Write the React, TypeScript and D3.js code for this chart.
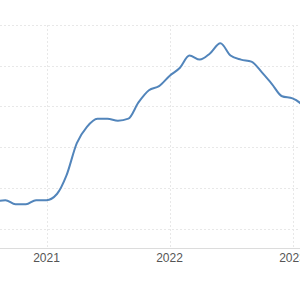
import React, { useEffect, useRef } from 'react';
import * as d3 from 'd3';

// monthly readings, Jul 2020 .. Mar 2023
const months: string[] = [
    '2020-07', '2020-08', '2020-09', '2020-10', '2020-11', '2020-12',
    '2021-01', '2021-02', '2021-03', '2021-04', '2021-05', '2021-06',
    '2021-07', '2021-08', '2021-09', '2021-10', '2021-11', '2021-12',
    '2022-01', '2022-02', '2022-03', '2022-04', '2022-05', '2022-06',
    '2022-07', '2022-08', '2022-09', '2022-10', '2022-11', '2022-12',
    '2023-01', '2023-02', '2023-03',
];
const values: number[] = [
    1.0, 1.3, 1.4, 1.2, 1.2, 1.4,
    1.4, 1.7, 2.6, 4.2, 5.0, 5.4,
    5.4, 5.3, 5.4, 6.2, 6.8, 7.0,
    7.5, 7.9, 8.5, 8.3, 8.6, 9.1,
    8.5, 8.3, 8.2, 7.7, 7.1, 6.5,
    6.4, 6.0, 5.0,
];
const yTicks: number[] = [0, 2, 4, 6, 8, 10];
const yearTicks: string[] = ['2021', '2022', '2023'];

const App: React.FC = () => {
    const ref = useRef<SVGSVGElement | null>(null);

    useEffect(() => {
        if (!ref.current) return;
        const svg = d3.select(ref.current);
        svg.selectAll('*').remove();
        const width = 300;

        const parse = d3.timeParse('%Y-%m');
        const x = d3.scaleTime()
            .domain([new Date(2021, 0, 1), new Date(2022, 0, 1)])
            .range([46.5, 169.5]);
        const y = d3.scaleLinear()
            .domain([-1, 10])
            .range([249, 25]);

        const data = months.map((m, i) => ({ date: parse(m) as Date, value: values[i] }));

        // horizontal grid
        svg.append('g')
            .selectAll('line')
            .data(yTicks)
            .enter().append('line')
            .attr('x1', 0)
            .attr('x2', width)
            .attr('y1', d => Math.round(y(d)) + 0.5)
            .attr('y2', d => Math.round(y(d)) + 0.5)
            .attr('stroke', '#e8e8e8')
            .attr('stroke-dasharray', '2,2');

        // vertical grid
        const yearDates = yearTicks.map(t => new Date(+t, 0, 1));
        svg.append('g')
            .selectAll('line')
            .data(yearDates)
            .enter().append('line')
            .attr('x1', d => Math.round(x(d)) + 0.5)
            .attr('x2', d => Math.round(x(d)) + 0.5)
            .attr('y1', y(10))
            .attr('y2', y(-1))
            .attr('stroke', '#e8e8e8')
            .attr('stroke-dasharray', '2,2');

        // baseline
        svg.append('line')
            .attr('x1', 0)
            .attr('x2', width)
            .attr('y1', Math.round(y(-1)) - 0.5)
            .attr('y2', Math.round(y(-1)) - 0.5)
            .attr('stroke', '#dcdcdc');

        svg.append('g')
            .selectAll('text')
            .data(yearDates)
            .enter().append('text')
            .attr('x', d => x(d))
            .attr('y', 262)
            .attr('text-anchor', 'middle')
            .style('font-family', '"Liberation Sans", Arial, sans-serif')
            .style('font-size', '12px')
            .style('fill', '#555')
            .text(d => d3.timeFormat('%Y')(d));

        const line = d3.line<{ date: Date; value: number }>()
            .x(d => x(d.date))
            .y(d => y(d.value))
            .curve(d3.curveMonotoneX);

        svg.append('path')
            .datum(data)
            .attr('d', line)
            .attr('fill', 'none')
            .attr('stroke', '#5285bb')
            .attr('stroke-width', 2);
    }, []);

    return (
        <svg
            ref={ref}
            width={300}
            height={300}
            style={{ position: 'absolute', left: 0, top: 0, background: '#fff' }}
        ></svg>
    );
};

export default App;
